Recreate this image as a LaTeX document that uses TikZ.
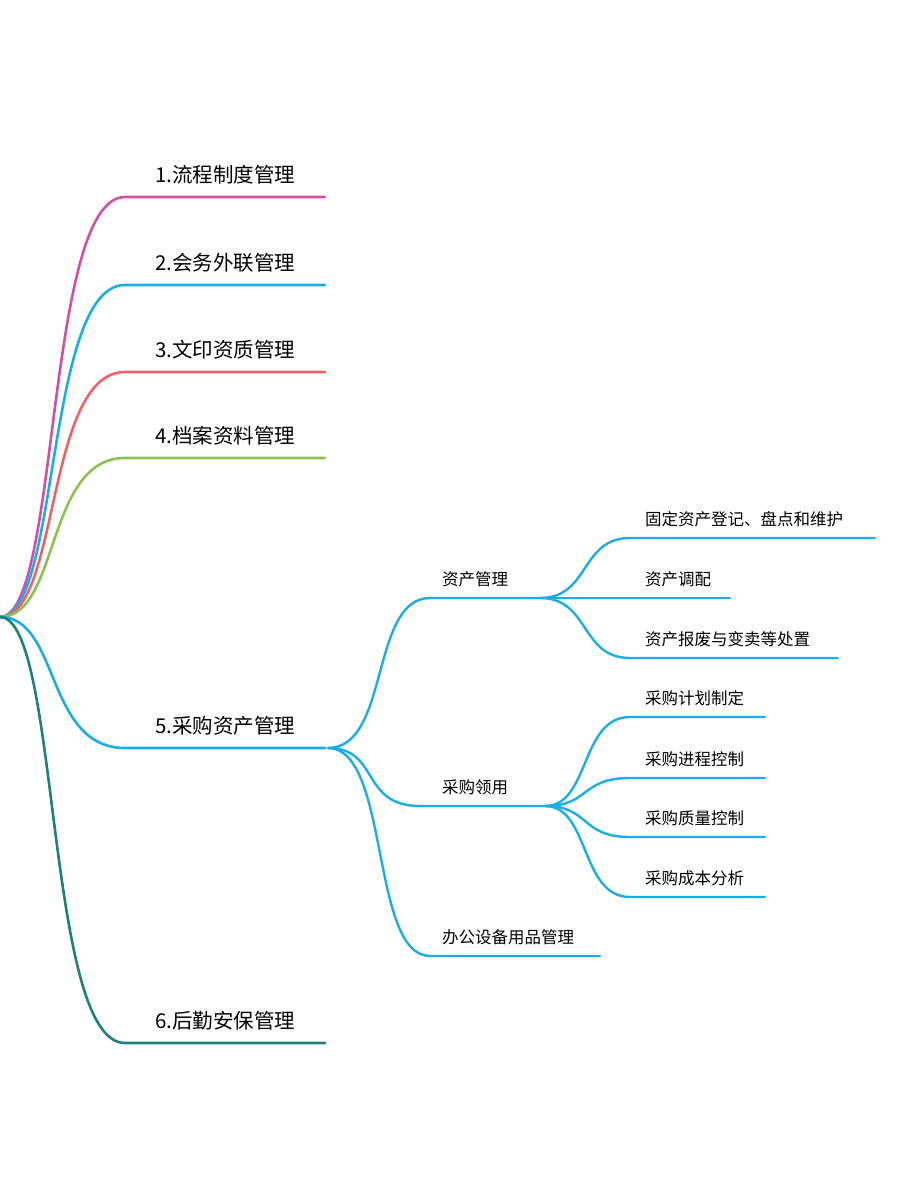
\documentclass[tikz,border=0pt]{standalone}
\usepackage{fontspec}
\setmainfont{Noto Sans CJK SC}
\definecolor{cmag}{HTML}{D24FA8}
\definecolor{ccyan}{HTML}{1AAEE8}
\definecolor{cred}{HTML}{EE6265}
\definecolor{cgreen}{HTML}{8DC152}
\definecolor{cteal}{HTML}{1D7F80}
\begin{document}
\begin{tikzpicture}[x=1pt,y=-1pt,
  br/.style={line width=2.6pt,line cap=round},
  sb/.style={line width=2.4pt,line cap=round,ccyan},
  mlab/.style={anchor=south west,font=\fontsize{20.5}{24}\selectfont,inner sep=0pt},
  slab/.style={anchor=south west,font=\fontsize{16.5}{19}\selectfont,inner sep=0pt}]
\useasboundingbox (0,0) rectangle (900,1200);
\coordinate (r) at (0,617);
% main branches
\foreach \y/\c/\t in {197/cmag/1.流程制度管理,285/ccyan/2.会务外联管理,372/cred/3.文印资质管理,458/cgreen/4.档案资料管理,748/ccyan/5.采购资产管理,1043/cteal/6.后勤安保管理}{
  \draw[br,\c] (r) .. controls (60,617) and (45,\y) .. (125,\y) -- (325,\y);
  \node[mlab] at (155,\y-13) {\t};
}
\coordinate (m5) at (328,748);
% sub branches
\coordinate (a) at (540,598);
\coordinate (b) at (545,806);
\draw[sb] (m5) .. controls (390,748) and (370,598) .. (430,598) -- (a);
\node[slab] at (442,587) {资产管理};
\draw[sb] (m5) .. controls (380,748) and (360,806) .. (420,806) -- (b);
\node[slab] at (442,795) {采购领用};
\draw[sb] (m5) .. controls (390,748) and (370,956) .. (430,956) -- (600,956);
\node[slab] at (442,945) {办公设备用品管理};
% leaves of a
\foreach \y/\e/\t in {538/875/固定资产登记、盘点和维护,598/730/资产调配,658/838/资产报废与变卖等处置}{
  \draw[sb] (a) .. controls (590,598) and (580,\y) .. (630,\y) -- (\e,\y);
  \node[slab] at (645,\y-11) {\t};
}
\foreach \y/\t in {717/采购计划制定,778/采购进程控制,837/采购质量控制,897/采购成本分析}{
  \draw[sb] (b) .. controls (590,806) and (580,\y) .. (630,\y) -- (765,\y);
  \node[slab] at (645,\y-11) {\t};
}
\end{tikzpicture}
\end{document}
